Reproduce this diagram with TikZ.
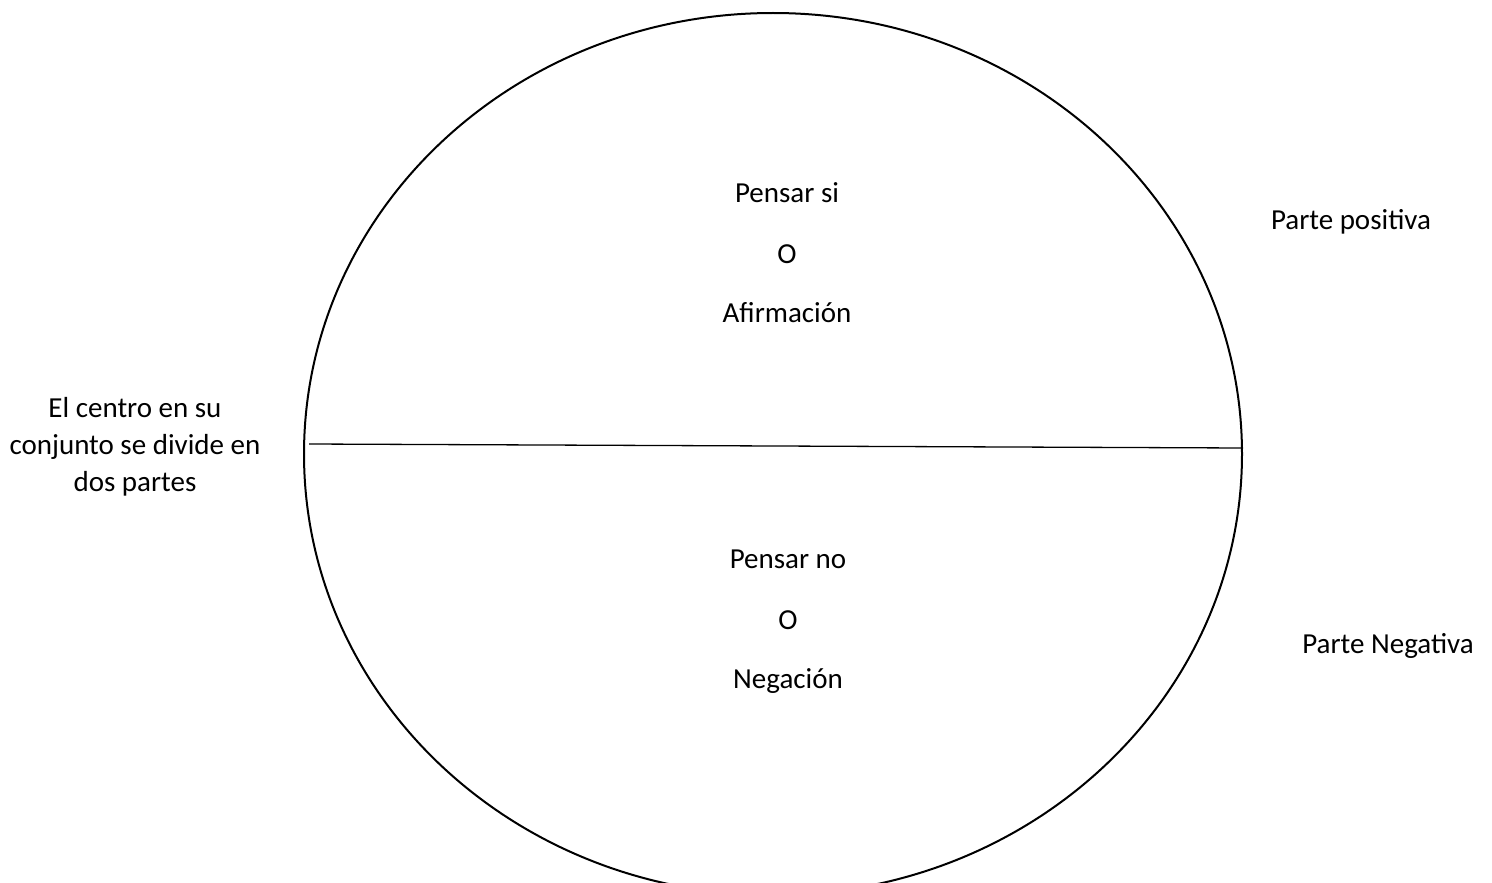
\documentclass[tikz,border=0pt]{standalone}
\usepackage{fontspec}
\setmainfont{Carlito}
\usepackage{tikz}
\usetikzlibrary{positioning}

\tikzset{
  txt/.style={font=\fontsize{29}{37}\selectfont, anchor=base, inner sep=0pt},
  side/.style={font=\fontsize{29}{37}\selectfont, align=center, inner sep=0pt}
}

\begin{document}
\begin{tikzpicture}[x=1pt,y=-1pt]
\useasboundingbox (0,0) rectangle (1492,883);
% Circle split in two
\begin{scope}
\clip (0,0) rectangle (1492,883);
\draw[line width=2pt] (773,454) ellipse (469 and 441);
\end{scope}
\coordinate (lft) at (309,444);
\coordinate (rgt) at (1243,448);
\draw[line width=1.3pt] (lft) -- (rgt);

% Upper half
\node[txt] (si) at (787,202) {Pensar si};
\node[txt] (o1) at (787,263) {O};
\node[txt] (af) at (787,322) {Afirmación};

% Lower half
\node[txt] (no) at (788,568) {Pensar no};
\node[txt] (o2) at (788,629) {O};
\node[txt] (ng) at (788,688) {Negación};

% Labels outside
\node[txt] (pos) at (1351,229) {Parte positiva};
\node[txt] (neg) at (1388,653) {Parte Negativa};
\node[side] (cen) at (135,447) {El centro en su\\conjunto se divide en\\dos partes};
\end{tikzpicture}
\end{document}
